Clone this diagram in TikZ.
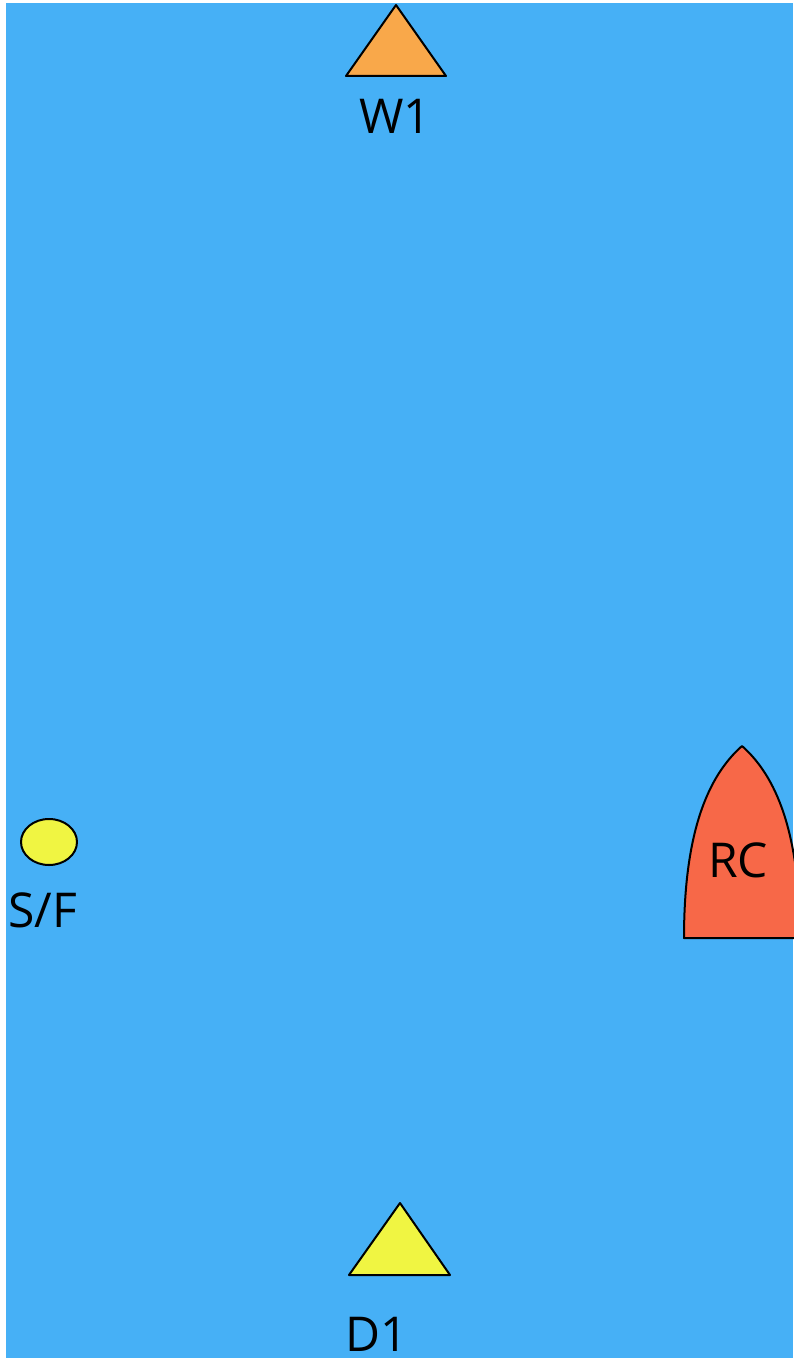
\documentclass[tikz,border=0pt]{standalone}
\usepackage{fontspec}
\setmainfont{Open Sans}
\usepackage{tikz}
\usetikzlibrary{positioning}

\definecolor{waterblue}{HTML}{46B0F6}
\definecolor{markorange}{HTML}{F9A84A}
\definecolor{markyellow}{HTML}{F0F542}
\definecolor{boatred}{HTML}{F76848}

\tikzset{
  mark outline/.style={draw=black, line width=2pt, line join=round},
  mark label/.style={font=\fontsize{48}{52}\selectfont, text=black, inner sep=0pt}
}

\begin{document}
\begin{tikzpicture}[x=1pt, y=-1pt]
  \useasboundingbox (0,0) rectangle (793,1359);

  % Water
  \fill[waterblue] (6,3) rectangle (793,1358);

  % Windward mark
  \coordinate (w1top) at (396,5);
  \filldraw[mark outline, fill=markorange] (w1top) -- (446,76) -- (346,76) -- cycle;
  \node[mark label] (w1) at (395,116) {W1};

  % Start / finish buoy
  \filldraw[mark outline, fill=markyellow] (49,842) ellipse [x radius=28, y radius=23];
  \node[mark label] (sf) at (43,910) {S/F};

  % Committee boat
  \filldraw[mark outline, fill=boatred]
    (684,938) .. controls (684,832) and (708,776) .. (742,746)
    .. controls (776,776) and (800,832) .. (800,938) -- cycle;
  \node[mark label] (rc) at (738,860) {RC};

  % Downwind mark
  \coordinate (d1top) at (400,1203);
  \filldraw[mark outline, fill=markyellow] (d1top) -- (450,1275) -- (349,1275) -- cycle;
  \node[mark label] (d1) at (377,1334) {D1};

\end{tikzpicture}
\end{document}
